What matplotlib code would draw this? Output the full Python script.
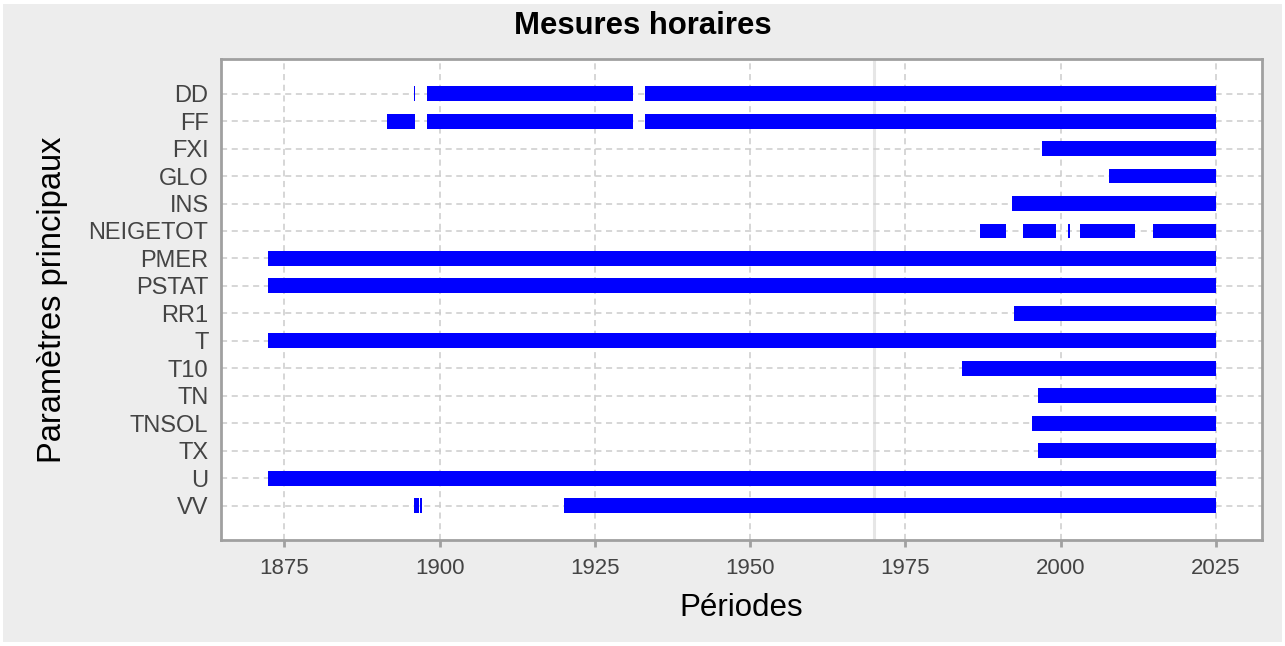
import matplotlib
matplotlib.use("Agg")
import matplotlib.pyplot as plt
from matplotlib.patches import Rectangle

plt.rcParams['font.family'] = ['Liberation Sans', 'DejaVu Sans']

params = ["DD", "FF", "FXI", "GLO", "INS", "NEIGETOT", "PMER", "PSTAT",
          "RR1", "T", "T10", "TN", "TNSOL", "TX", "U", "VV"]

# measurement periods (parameter, start year, end year)
seg_param = ["DD", "DD", "DD",
             "FF", "FF", "FF",
             "FXI", "GLO", "INS",
             "NEIGETOT", "NEIGETOT", "NEIGETOT", "NEIGETOT", "NEIGETOT",
             "PMER", "PSTAT", "RR1", "T", "T10", "TN", "TNSOL", "TX", "U",
             "VV", "VV", "VV"]
seg_start = [1895.8, 1898.0, 1933.1,
             1891.5, 1898.0, 1933.1,
             1997.0, 2007.8, 1992.2,
             1987.0, 1993.9, 2001.2, 2003.1, 2014.9,
             1872.4, 1872.4, 1992.5, 1872.4, 1984.1, 1996.4, 1995.3, 1996.4, 1872.4,
             1895.9, 1896.8, 1920.0]
seg_end = [1896.1, 1931.1, 2025.0,
           1896.0, 1931.1, 2025.0,
           2025.0, 2025.0, 2025.0,
           1991.2, 1999.2, 2001.45, 2012.0, 2025.0,
           2025.0, 2025.0, 2025.0, 2025.0, 2025.0, 2025.0, 2025.0, 2025.0, 2025.0,
           1896.6, 1897.1, 2025.0]

xticks = [1875, 1900, 1925, 1950, 1975, 2000, 2025]
marker_year = 1970

W, H = 1285, 646
fig = plt.figure(figsize=(W / 100, H / 100), dpi=100, facecolor="white")
fig.patches.append(Rectangle((3 / W, 4 / H), (W - 6) / W, (H - 8) / H,
                             transform=fig.transFigure, facecolor="#ededed",
                             edgecolor="none", zorder=-10))

ax = fig.add_axes([221 / W, 1 - 540 / H, (1262 - 221) / W, (540 - 59.3) / H])
ax.set_facecolor("white")

ypos = {p: i for i, p in enumerate(params)}
for p, s, e in zip(seg_param, seg_start, seg_end):
    ax.barh(ypos[p], e - s, left=s, height=0.54, color="#0000ff",
            edgecolor="none", zorder=3)

ax.axvline(marker_year, color="#e6e6e6", lw=2.2, zorder=1)

ax.set_xlim(1864.8, 2032.4)
ax.set_ylim(len(params) - 1 + 1.25, -1.25)
ax.set_yticks(range(len(params)))
ax.set_yticklabels(params)
ax.set_xticks(xticks)

ax.grid(True, color="#cccccc", linestyle=(0, (4, 3)), linewidth=1.1, zorder=0)

for sp in ax.spines.values():
    sp.set_color("#a0a0a0")
    sp.set_linewidth(2)

ax.tick_params(axis="y", length=0, pad=9, labelsize=17, labelcolor="#444444")
ax.tick_params(axis="x", length=5, width=2, color="#a0a0a0", pad=8,
               labelsize=16, labelcolor="#444444")

ax.set_xlabel("Périodes", fontsize=22.5, color="black", labelpad=10)
ax.set_ylabel("Paramètres principaux", fontsize=23.5, color="black", labelpad=15)

fig.text(0.5, 1 - 26 / H, "Mesures horaires", ha="center", va="center",
         fontsize=22.4, fontweight="bold", color="black")

fig.savefig("out.png", dpi=100, facecolor=fig.get_facecolor())
